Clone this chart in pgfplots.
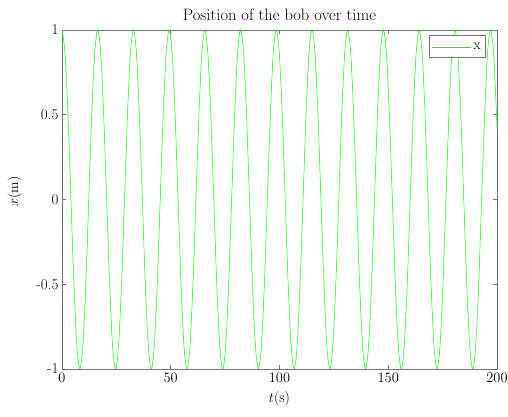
\documentclass[border=0pt]{standalone}
\usepackage{pgfplots}
\usepackage{pgfplotstable}
\pgfplotsset{compat=1.18}

% pendulum position (period ~16.42 s)
\pgfplotstableread{
t x
0.000 1
1.368 0.866
2.737 0.5
4.105 0
5.473 -0.5
6.842 -0.866
8.210 -1
9.578 -0.866
10.947 -0.5
12.315 0
13.683 0.5
15.052 0.866
16.420 1
17.788 0.866
19.157 0.5
20.525 0
21.893 -0.5
23.262 -0.866
24.630 -1
25.998 -0.866
27.367 -0.5
28.735 0
30.103 0.5
31.472 0.866
32.840 1
34.208 0.866
35.577 0.5
36.945 0
38.313 -0.5
39.682 -0.866
41.050 -1
42.418 -0.866
43.787 -0.5
45.155 0
46.523 0.5
47.892 0.866
49.260 1
50.628 0.866
51.997 0.5
53.365 0
54.733 -0.5
56.102 -0.866
57.470 -1
58.838 -0.866
60.207 -0.5
61.575 0
62.943 0.5
64.312 0.866
65.680 1
67.048 0.866
68.417 0.5
69.785 0
71.153 -0.5
72.522 -0.866
73.890 -1
75.258 -0.866
76.627 -0.5
77.995 0
79.363 0.5
80.732 0.866
82.100 1
83.468 0.866
84.837 0.5
86.205 0
87.573 -0.5
88.942 -0.866
90.310 -1
91.678 -0.866
93.047 -0.5
94.415 0
95.783 0.5
97.152 0.866
98.520 1
99.888 0.866
101.257 0.5
102.625 0
103.993 -0.5
105.362 -0.866
106.730 -1
108.098 -0.866
109.467 -0.5
110.835 0
112.203 0.5
113.572 0.866
114.940 1
116.308 0.866
117.677 0.5
119.045 0
120.413 -0.5
121.782 -0.866
123.150 -1
124.518 -0.866
125.887 -0.5
127.255 0
128.623 0.5
129.992 0.866
131.360 1
132.728 0.866
134.097 0.5
135.465 0
136.833 -0.5
138.202 -0.866
139.570 -1
140.938 -0.866
142.307 -0.5
143.675 0
145.043 0.5
146.412 0.866
147.780 1
149.148 0.866
150.517 0.5
151.885 0
153.253 -0.5
154.622 -0.866
155.990 -1
157.358 -0.866
158.727 -0.5
160.095 0
161.463 0.5
162.832 0.866
164.200 1
165.568 0.866
166.937 0.5
168.305 0
169.673 -0.5
171.042 -0.866
172.410 -1
173.778 -0.866
175.147 -0.5
176.515 0
177.883 0.5
179.252 0.866
180.620 1
181.988 0.866
183.357 0.5
184.725 0
186.093 -0.5
187.462 -0.866
188.830 -1
190.198 -0.866
191.567 -0.5
192.935 0
194.303 0.5
195.672 0.866
197.040 1
198.408 0.866
199.777 0.5
200.000 0.424
}\bobdata

\begin{document}
\begin{tikzpicture}
\begin{axis}[
    scale only axis,
    width=435pt, height=339pt,
    xmin=0, xmax=200,
    ymin=-1, ymax=1,
    xtick={0,50,100,150,200},
    ytick={-1,-0.5,0,0.5,1},
    yticklabels={-1,-0.5,0,0.5,1},
    tick align=inside,
    major tick length=4pt,
    axis line style={black!55, line width=0.6pt},
    tick style={black!55, line width=0.6pt},
    tick label style={font=\fontsize{15}{18}\selectfont},
    xticklabel style={yshift=-1pt},
    title={Position of the bob over time},
    title style={font=\fontsize{16.5}{20}\selectfont},
    xlabel={$t$(s)},
    ylabel={$x$(m)},
    xlabel style={font=\fontsize{15}{18}\selectfont, yshift=-2pt},
    ylabel style={font=\fontsize{14}{17}\selectfont, yshift=8pt, xshift=8pt},
    legend style={at={(1,1)}, anchor=north east, xshift=-11.5pt, yshift=-5.5pt,
        draw=black!55, line width=0.6pt, fill=white,
        font=\fontsize{15}{18}\selectfont, inner xsep=2.5pt, inner ysep=5pt},
    legend image code/.code={\draw[#1] (0pt,0pt) -- (39pt,0pt);},
]
\addplot[color=green, line width=0.5pt, smooth] table[x=t, y=x] {\bobdata};
\addlegendentry{x}
\end{axis}
\pgfresetboundingbox
\path ([shift={(-62pt,-48pt)}]current axis.south west) rectangle ([shift={(11pt,30pt)}]current axis.north east);
\end{tikzpicture}
\end{document}
